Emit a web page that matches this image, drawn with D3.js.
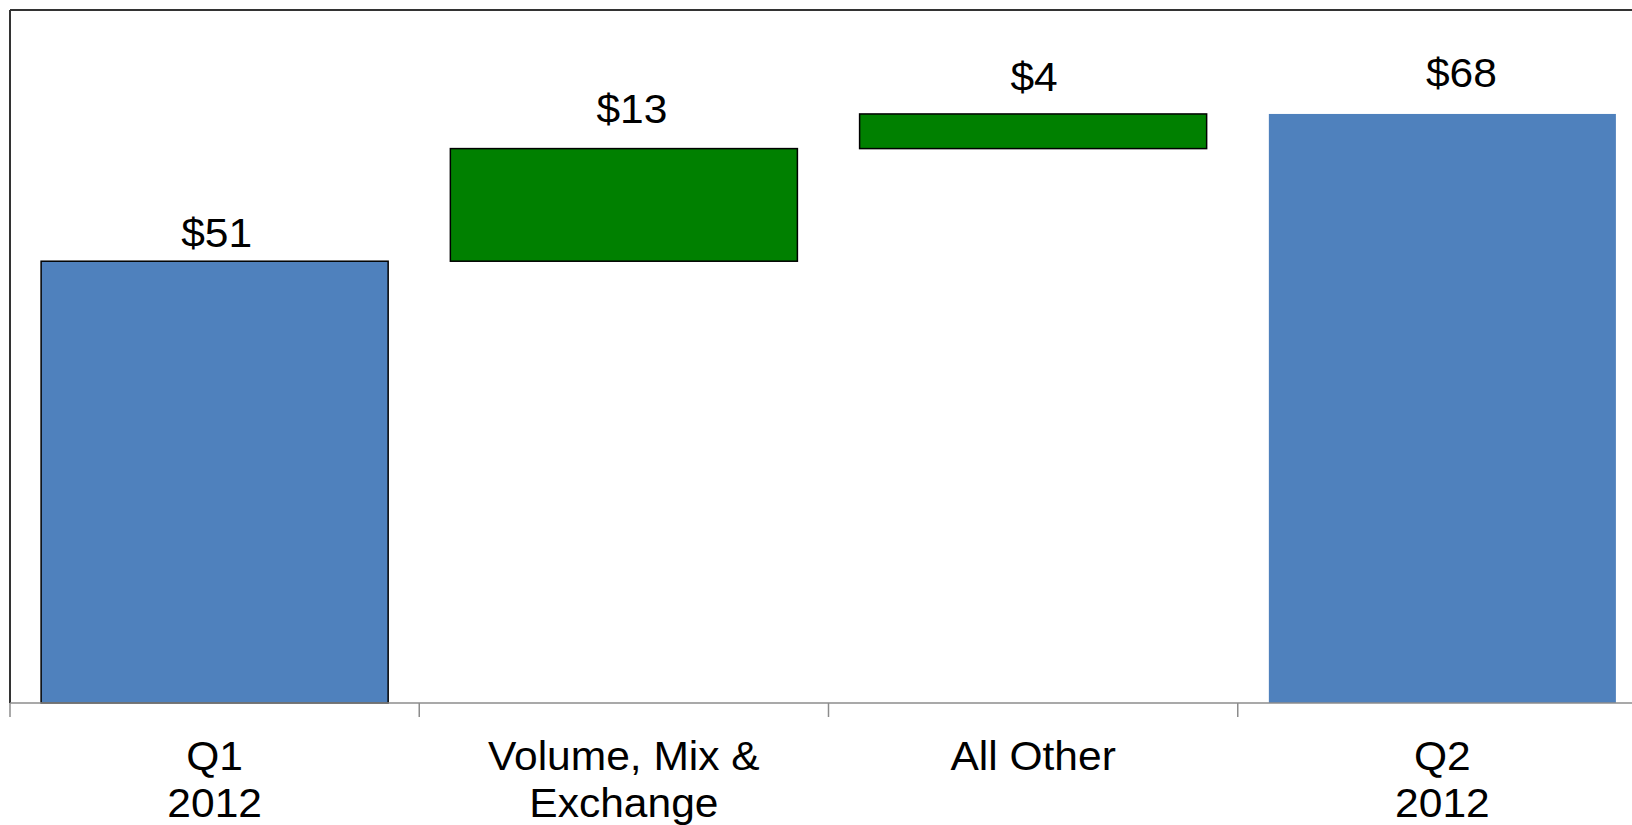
<!DOCTYPE html>
<html>
<head>
<meta charset="utf-8">
<script src="https://cdn.jsdelivr.net/npm/d3@7"></script>
<style>
  html, body { margin: 0; padding: 0; background: #fff; overflow: hidden; }
  svg { display: block; font-family: "Liberation Sans", Arial, sans-serif; }
</style>
</head>
<body>
<svg id="viz"></svg>
<script>
// ----------------------------------------------------------------------------------------------------------------
// DATA

var categories = ["Q1\n2012", "Volume, Mix &\nExchange", "All Other", "Q2\n2012"];
var values = [51, 13, 4, 68];
var kinds = ["total", "delta", "delta", "total"];
var valueLabels = ["$51", "$13", "$4", "$68"];

// ----------------------------------------------------------------------------------------------------------------
// SETUP

var w = 1632;
var h = 825;
var viz = d3.select("#viz").attr("width", w).attr("height", h);

// note: "top" is taken by window.top, so plot edges get their own names
var plotLeft = 10, plotTop = 10, plotBottom = 703, plotRight = 1647;

// waterfall: running base for each bar
var running = 0;
var bars = values.map(function(v, i) {
  var base = kinds[i] === "total" ? 0 : running;
  var end = base + v;
  running = end;
  return {cat: categories[i], kind: kinds[i], label: valueLabels[i], base: base, end: end};
});

var x = d3.scaleBand().domain(categories).range([plotLeft, plotRight]).padding(0);
var y = d3.scaleLinear().domain([0, 80]).range([plotBottom, plotTop]);

var barW = x.bandwidth() * 0.848;
var fills = {total: "#4f81bd", delta: "#008000"};
var outlines = ["#000", "#000", "#000", "none"];
var labelGap = [14, 26, 23, 27];
var labelShift = [2, 8, 1, 19];
var stretch = 1.05; // text in the original is a bit wider than Arial

// ----------------------------------------------------------------------------------------------------------------
// CHART

// bars
viz.selectAll("rect.bar")
  .data(bars)
  .enter()
  .append("rect")
  .attr("class", "bar")
  .attr("x", function(d) { return x(d.cat) + (x.bandwidth() - barW) / 2; })
  .attr("y", function(d) { return y(d.end); })
  .attr("width", barW)
  .attr("height", function(d) { return y(d.base) - y(d.end); })
  .attr("fill", function(d) { return fills[d.kind]; })
  .attr("stroke", function(d, i) { return outlines[i]; })
  .attr("stroke-width", 1.5);

// value labels
viz.selectAll("text.val")
  .data(bars)
  .enter()
  .append("text")
  .attr("class", "val")
  .attr("transform", function(d, i) {
    var cx = x(d.cat) + x.bandwidth() / 2 + labelShift[i];
    return "translate(" + cx + "," + (y(d.end) - labelGap[i]) + ") scale(" + stretch + ",1)";
  })
  .attr("text-anchor", "middle")
  .attr("font-size", 40.5)
  .attr("fill", "#000")
  .text(function(d) { return d.label; });

// frame: left and top edges
viz.append("line")
  .attr("x1", plotLeft).attr("x2", plotLeft).attr("y1", plotTop).attr("y2", plotBottom)
  .attr("stroke", "#333").attr("stroke-width", 2);
viz.append("line")
  .attr("x1", plotLeft).attr("x2", w).attr("y1", plotTop).attr("y2", plotTop)
  .attr("stroke", "#333").attr("stroke-width", 2);

// x axis with ticks at band boundaries
var axis = viz.append("g").attr("transform", "translate(0," + plotBottom + ")");
axis.append("line")
  .attr("x1", plotLeft).attr("x2", w).attr("y1", 0).attr("y2", 0)
  .attr("stroke", "#8c8c8c").attr("stroke-width", 1.5);
axis.selectAll("line.tick")
  .data(categories)
  .enter()
  .append("line")
  .attr("class", "tick")
  .attr("x1", function(d) { return x(d); })
  .attr("x2", function(d) { return x(d); })
  .attr("y1", 0).attr("y2", 14)
  .attr("stroke", "#8c8c8c").attr("stroke-width", 1.5);

// category labels
var cats = axis.selectAll("text.cat")
  .data(categories)
  .enter()
  .append("text")
  .attr("class", "cat")
  .attr("text-anchor", "middle")
  .attr("font-size", 40.5)
  .attr("fill", "#000")
  .attr("transform", function(d) {
    return "translate(" + (x(d) + x.bandwidth() / 2) + ",67) scale(" + stretch + ",1)";
  });

cats.selectAll("tspan")
  .data(function(d) { return d.split("\n"); })
  .enter()
  .append("tspan")
  .attr("x", 0)
  .attr("dy", function(d, i) { return i === 0 ? 0 : 47; })
  .text(function(d) { return d; });
</script>
</body>
</html>
